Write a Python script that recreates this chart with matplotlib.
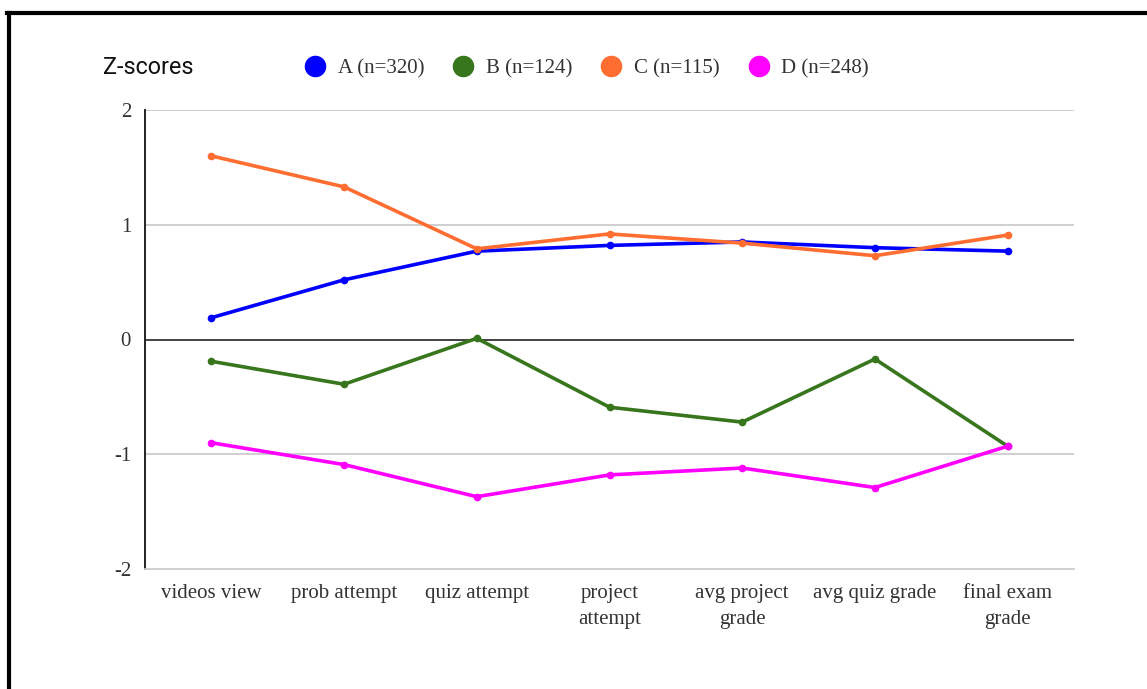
import matplotlib
matplotlib.use("Agg")
import matplotlib.pyplot as plt
from matplotlib.lines import Line2D

categories = ["videos view", "prob attempt", "quiz attempt", "project\nattempt",
              "avg project\ngrade", "avg quiz grade", "final exam\ngrade"]
series_names = ["A (n=320)", "B (n=124)", "C (n=115)", "D (n=248)"]
a_values = [0.19, 0.52, 0.77, 0.82, 0.85, 0.80, 0.77]
b_values = [-0.19, -0.39, 0.01, -0.59, -0.72, -0.17, -0.93]
c_values = [1.60, 1.33, 0.79, 0.92, 0.84, 0.73, 0.91]
d_values = [-0.90, -1.09, -1.37, -1.18, -1.12, -1.29, -0.93]
y_ticks = [-2, -1, 0, 1, 2]

colors = ["#0000ff", "#38761d", "#ff6d31", "#ff00ff"]
all_values = [a_values, b_values, c_values, d_values]

W, H = 1147, 689
fig = plt.figure(figsize=(W / 100, H / 100), dpi=100)
fig.patch.set_facecolor("white")

# page frame (top and left edges)
fig.add_artist(Line2D([9 / W, 9 / W], [0, 1 - 12.5 / H], transform=fig.transFigure,
                      color="black", lw=3))
fig.add_artist(Line2D([7.5 / W, 1], [1 - 12.5 / H, 1 - 12.5 / H], transform=fig.transFigure,
                      color="black", lw=3))

left, right, top, bottom = 145, 1074, 110, 569
ax = fig.add_axes([left / W, 1 - bottom / H, (right - left) / W, (bottom - top) / H])

x = list(range(len(categories)))
for vals, col in zip(all_values, colors):
    ax.plot(x, vals, color=col, lw=2.6, marker="o", markersize=4.5, zorder=3,
            solid_capstyle="round")

ax.set_xlim(-0.5, len(categories) - 0.5)
ax.set_ylim(-2, 2)
ax.set_yticks(y_ticks)
ax.set_yticklabels([str(t) for t in y_ticks])
ax.set_xticks(x)
ax.set_xticklabels(categories, linespacing=1.5)

for t in y_ticks:
    if t == 0:
        ax.axhline(t, color="#333333", lw=1.3, zorder=2)
    elif t != -2:
        ax.axhline(t, color="#cccccc", lw=1.3, zorder=1)

for s in ["top", "right"]:
    ax.spines[s].set_visible(False)
ax.spines["bottom"].set_color("#cccccc")
ax.spines["bottom"].set_linewidth(1.3)
ax.spines["left"].set_color("#222222")
ax.spines["left"].set_linewidth(1.4)

serif = ["Liberation Serif", "DejaVu Serif"]
ax.tick_params(axis="both", length=0, labelsize=15, labelcolor="#333333")
ax.tick_params(axis="y", pad=10)
ax.tick_params(axis="x", pad=11)
for lab in ax.get_xticklabels() + ax.get_yticklabels():
    lab.set_fontfamily(serif)

fig.text(103 / W, 1 - 67 / H, "Z-scores", fontfamily="Roboto", fontsize=16.8,
         color="#111111", va="center", ha="left")

handles = [Line2D([], [], linestyle="none", marker="o", markersize=14.5,
                  markerfacecolor=c, markeredgecolor=c) for c in colors]
leg = fig.legend(handles, series_names, ncol=4, frameon=False,
                 loc="center left", bbox_to_anchor=(304.6 / W, 1 - 69 / H),
                 prop={"family": serif, "size": 15}, handlelength=1.0,
                 handletextpad=0.6, columnspacing=1.36, borderaxespad=0, borderpad=0)
for txt in leg.get_texts():
    txt.set_color("#333333")

fig.savefig("out.png", dpi=100, facecolor="white")
